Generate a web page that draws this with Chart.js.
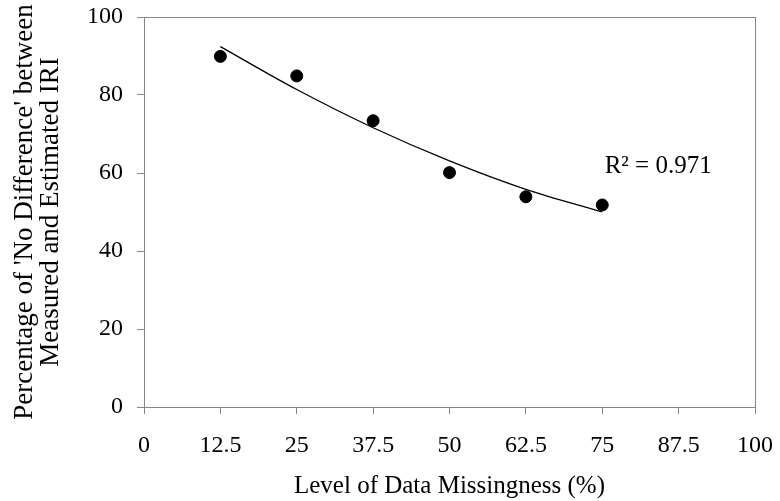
<!DOCTYPE html>
<html>
<head>
<meta charset="utf-8">
<script src="https://cdn.jsdelivr.net/npm/chart.js@4"></script>
<style>
  body { margin: 0; background: #fff; }
  #wrap { width: 780px; height: 501px; }
</style>
</head>
<body>
<div id="wrap"><canvas id="chart" width="780" height="501"></canvas></div>
<script>
// data
const missingLevels = [12.5, 25, 37.5, 50, 62.5, 75];
const noDiffPct = [89.9, 84.9, 73.4, 60.1, 53.9, 51.8];
// polynomial trendline as drawn (values read at the same x)
const trendPct = [92.4, 81.4, 71.6, 63.1, 55.8, 50.0];
const xTicks = [0, 12.5, 25, 37.5, 50, 62.5, 75, 87.5, 100];
const yTicks = [0, 20, 40, 60, 80, 100];
const r2Label = 'R² = 0.971';

const axisGrey = '#868686';
const fontFamily = '"Liberation Serif", "Times New Roman", serif';

// box around the plot + R2 text
const boxPlugin = {
  id: 'box',
  afterDraw(chart){
    const {ctx, chartArea: a, scales} = chart;
    ctx.save();
    ctx.strokeStyle = axisGrey;
    ctx.lineWidth = 1;
    ctx.strokeRect(a.left + 0.5, a.top + 0.5, a.right - a.left, a.bottom - a.top);
    ctx.fillStyle = '#000';
    ctx.font = '25px ' + fontFamily;
    ctx.textBaseline = 'alphabetic';
    ctx.fillText(r2Label, scales.x.getPixelForValue(75.4), scales.y.getPixelForValue(60));
    ctx.restore();
  }
};

new Chart(document.getElementById('chart'), {
  data: {
    datasets: [
      {
        type: 'scatter',
        data: missingLevels.map((x, i) => ({x, y: noDiffPct[i]})),
        backgroundColor: '#000',
        borderColor: '#000',
        pointRadius: 6,
        order: 1
      },
      {
        type: 'line',
        data: missingLevels.map((x, i) => ({x, y: trendPct[i]})),
        borderColor: '#000',
        borderWidth: 1.3,
        pointRadius: 0,
        cubicInterpolationMode: 'monotone',
        fill: false,
        order: 2
      }
    ]
  },
  options: {
    responsive: false,
    animation: false,
    layout: { padding: { top: 17, right: 25, left: 0, bottom: 0 } },
    plugins: { legend: { display: false }, tooltip: { enabled: false } },
    scales: {
      x: {
        type: 'linear',
        min: 0, max: 100,
        afterBuildTicks: s => { s.ticks = xTicks.map(v => ({value: v})); },
        afterFit: s => { s.height = 94; s.paddingLeft = 0; s.paddingRight = 0; },
        grid: { display: true, drawOnChartArea: false, drawTicks: true, tickLength: 7, color: axisGrey },
        border: { display: true, color: axisGrey },
        ticks: { color: '#000', font: { family: fontFamily, size: 24 }, padding: 17, maxRotation: 0, autoSkip: false },
        title: { display: true, text: 'Level of Data Missingness (%)', color: '#000', font: { family: fontFamily, size: 25 }, padding: { top: 4, bottom: 0 } }
      },
      y: {
        min: 0, max: 100,
        afterBuildTicks: s => { s.ticks = yTicks.map(v => ({value: v})); },
        afterFit: s => { s.width = 144; s.paddingTop = 0; s.paddingBottom = 0; },
        grid: { display: true, drawOnChartArea: false, drawTicks: true, tickLength: 7, color: axisGrey },
        border: { display: true, color: axisGrey },
        ticks: { color: '#000', font: { family: fontFamily, size: 24 }, padding: 14 },
        title: { display: true, text: ["Percentage of 'No Difference' between", 'Measured and Estimated IRI'], color: '#000', font: { family: fontFamily, size: 27, lineHeight: 0.97 }, padding: { top: 12, bottom: 0 } }
      }
    }
  },
  plugins: [boxPlugin]
});
</script>
</body>
</html>
